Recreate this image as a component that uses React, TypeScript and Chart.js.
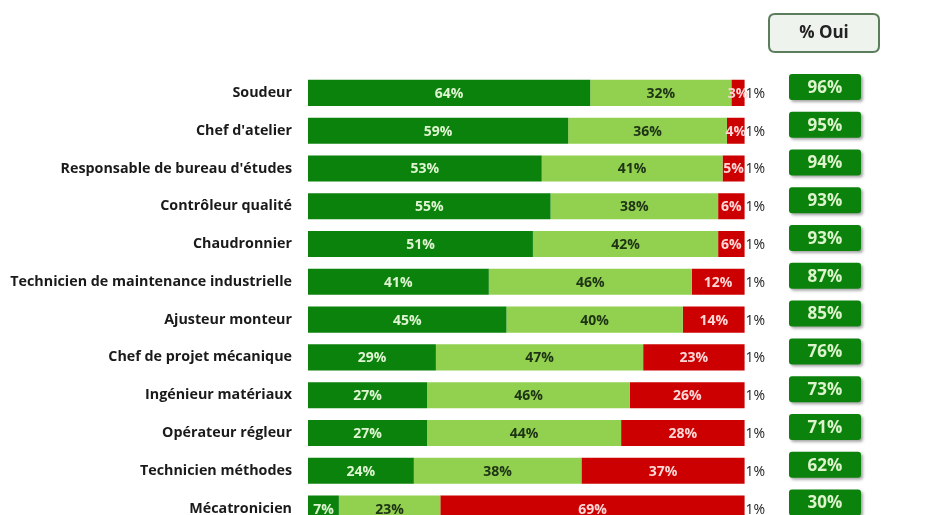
import React, { useEffect, useRef } from "react";
import { Chart, registerables } from "chart.js";
Chart.register(...registerables);

const categories = [
  "Soudeur",
  "Chef d'atelier",
  "Responsable de bureau d'études",
  "Contrôleur qualité",
  "Chaudronnier",
  "Technicien de maintenance industrielle",
  "Ajusteur monteur",
  "Chef de projet mécanique",
  "Ingénieur matériaux",
  "Opérateur régleur",
  "Technicien méthodes",
  "Mécatronicien",
];
const ouiTout = [64, 59, 53, 55, 51, 41, 45, 29, 27, 27, 24, 7];
const ouiPlutot = [32, 36, 41, 38, 42, 46, 40, 47, 46, 44, 38, 23];
const non = [3, 4, 5, 6, 6, 12, 14, 23, 26, 28, 37, 69];
const nsp = [1, 1, 1, 1, 1, 1, 1, 1, 1, 1, 1, 1];
const pctOui = [96, 95, 94, 93, 93, 87, 85, 76, 73, 71, 62, 30];
const headerLabel = "% Oui";

const DARK = "#0b820b";
const LIGHT = "#92d050";
const RED = "#cc0000";
const FONT = "'Open Sans', 'Liberation Sans', sans-serif";

function roundRect(ctx: CanvasRenderingContext2D, x: number, y: number, w: number, h: number, r: number) {
  ctx.beginPath();
  ctx.moveTo(x + r, y);
  ctx.lineTo(x + w - r, y);
  ctx.quadraticCurveTo(x + w, y, x + w, y + r);
  ctx.lineTo(x + w, y + h - r);
  ctx.quadraticCurveTo(x + w, y + h, x + w - r, y + h);
  ctx.lineTo(x + r, y + h);
  ctx.quadraticCurveTo(x, y + h, x, y + h - r);
  ctx.lineTo(x, y + r);
  ctx.quadraticCurveTo(x, y, x + r, y);
  ctx.closePath();
}

const labelPlugin = {
  id: "segLabels",
  afterDatasetsDraw(chart: any) {
    const ctx: CanvasRenderingContext2D = chart.ctx;
    ctx.save();
    ctx.textBaseline = "middle";
    const colors = ["#dff5d2", "#1d3314", "#ffd6d6"];
    chart.data.datasets.forEach((ds: any, di: number) => {
      const meta = chart.getDatasetMeta(di);
      meta.data.forEach((el: any, i: number) => {
        const v = ds.data[i];
        const txt = v + "%";
        if (di < 3) {
          ctx.font = `bold 14px ${FONT}`;
          ctx.fillStyle = colors[di];
          ctx.textAlign = "center";
          ctx.fillText(txt, (el.x + el.base) / 2, el.y + 1);
        } else {
          ctx.font = `14px ${FONT}`;
          ctx.fillStyle = "#222222";
          ctx.textAlign = "left";
          ctx.fillText(txt, el.base + 1, el.y + 1);
        }
      });
    });
    ctx.restore();
  },
  afterDraw(chart: any) {
    const ctx: CanvasRenderingContext2D = chart.ctx;
    const yScale = chart.scales.y;
    ctx.save();
    // header box
    roundRect(ctx, 769, 14, 110, 38, 6);
    ctx.fillStyle = "#eef3ee";
    ctx.fill();
    ctx.lineWidth = 2;
    ctx.strokeStyle = "#5b7d5b";
    ctx.stroke();
    ctx.fillStyle = "#222222";
    ctx.font = `bold 17px ${FONT}`;
    ctx.textAlign = "center";
    ctx.textBaseline = "middle";
    ctx.fillText(headerLabel, 824, 33);
    // oui boxes
    pctOui.forEach((v, i) => {
      const cy = yScale.getPixelForValue(i) - 6;
      ctx.save();
      ctx.shadowColor = "rgba(0,0,0,0.35)";
      ctx.shadowBlur = 3;
      ctx.shadowOffsetX = 2;
      ctx.shadowOffsetY = 2;
      roundRect(ctx, 789, cy - 13, 72, 26, 3);
      ctx.fillStyle = DARK;
      ctx.fill();
      ctx.restore();
      ctx.fillStyle = "#dcf3cc";
      ctx.font = `bold 17px ${FONT}`;
      ctx.textAlign = "center";
      ctx.textBaseline = "middle";
      ctx.fillText(v + "%", 825, cy + 1);
    });
    ctx.restore();
  },
};

export default function App() {
  const ref = useRef<HTMLCanvasElement>(null);
  useEffect(() => {
    const chart = new Chart(ref.current!, {
      type: "bar",
      data: {
        labels: categories,
        datasets: [
          { label: "Oui tout à fait", data: ouiTout, backgroundColor: DARK },
          { label: "Oui plutôt", data: ouiPlutot, backgroundColor: LIGHT },
          { label: "Non", data: non, backgroundColor: RED },
          { label: "NSP", data: nsp, backgroundColor: "rgba(255,255,255,0)" },
        ],
      },
      options: {
        indexAxis: "y",
        animation: false,
        responsive: false,
        maintainAspectRatio: false,
        layout: { padding: { top: 74, right: 188, bottom: 0, left: 0 } },
        datasets: { bar: { barPercentage: 0.69, categoryPercentage: 1 } },
        plugins: { legend: { display: false }, tooltip: { enabled: false } },
        scales: {
          x: { stacked: true, min: 0, max: 100, display: false },
          y: {
            stacked: true,
            grid: { display: false, drawTicks: false },
            border: { display: false },
            afterFit: (s: any) => { s.width = 308; },
            ticks: {
              padding: 16,
              color: "#1a1a1a",
              font: { family: FONT, size: 14.3, weight: "bold" },
            },
          },
        },
      },
      plugins: [labelPlugin],
    });
    return () => chart.destroy();
  }, []);
  return (
    <div style={{ position: "fixed", left: 0, top: 0, width: 937, height: 552, background: "#fff" }}>
      <canvas ref={ref} width={937} height={552} style={{ display: "block" }} />
    </div>
  );
}
